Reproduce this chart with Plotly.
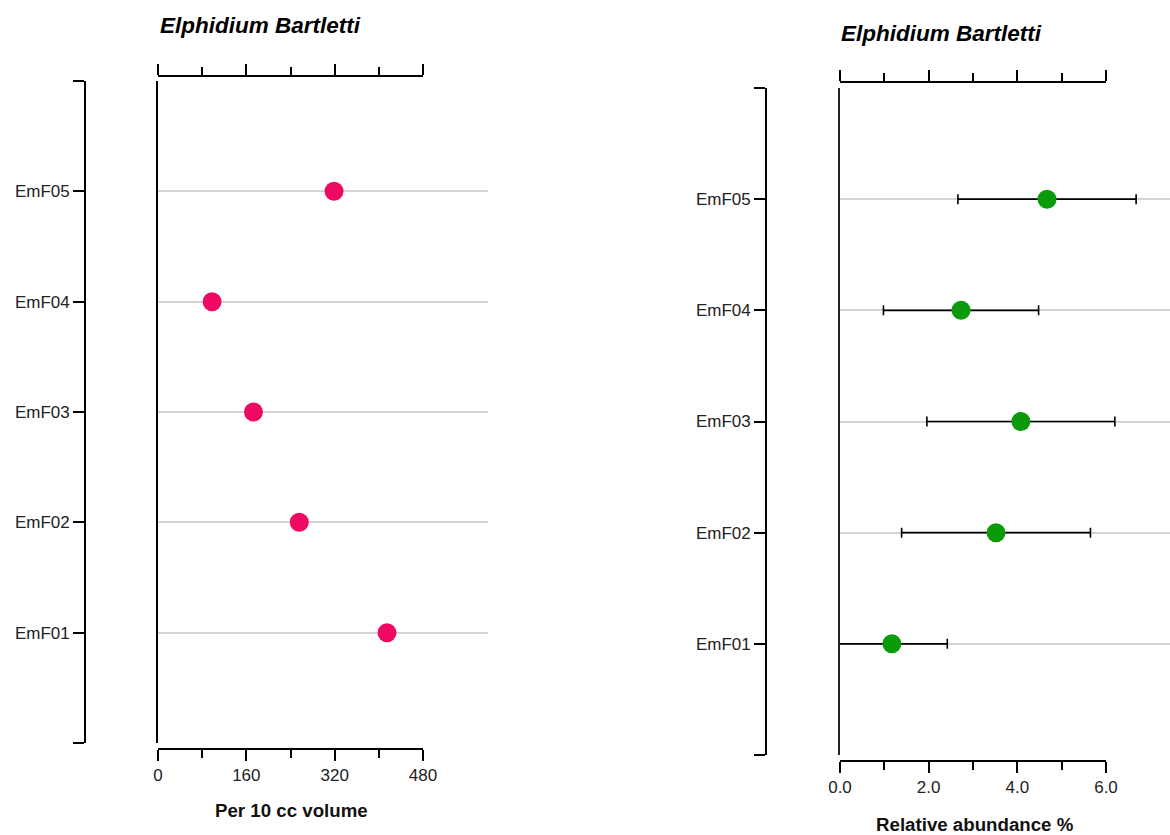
import plotly.graph_objects as go

# ---------------- data ----------------
samples = ["EmF01", "EmF02", "EmF03", "EmF04", "EmF05"]
sample_pos = [1, 2, 3, 4, 5]
per10cc = [415, 256, 173, 98, 319]
rel_abund = [1.17, 3.52, 4.08, 2.73, 4.67]
rel_err = [1.25, 2.13, 2.12, 1.75, 2.01]

left_ticks = [0, 160, 320, 480]
left_ticktext = ["0", "160", "320", "480"]
right_ticks = [0, 2, 4, 6]
right_ticktext = ["0.0", "2.0", "4.0", "6.0"]
title_text = "Elphidium Bartletti"
left_xtitle = "Per 10 cc volume"
right_xtitle = "Relative abundance %"

W, H = 1170, 835
FONT = "Liberation Sans, Arial, sans-serif"
PINK = "#EE0A62"
GREEN = "#0A9A0A"
GRID = "#D4D4D4"


def px_x(p):
    return p / W


def px_y(p):
    return 1 - p / H


bracket_vals = [0] + sample_pos + [6]
bracket_text = [""] + samples + [""]

fig = go.Figure()

# dummy traces so that every decorative axis has a subplot (without y grids)
for xa, ya in [("x3", "y3"), ("x4", "y3"), ("x5", "y4"), ("x6", "y4")]:
    fig.add_trace(go.Scatter(x=[None], y=[None], xaxis=xa, yaxis=ya,
                             mode="markers", showlegend=False, hoverinfo="skip"))

# main traces
fig.add_trace(go.Scatter(
    x=per10cc, y=sample_pos, mode="markers", xaxis="x", yaxis="y",
    marker=dict(color=PINK, size=19), showlegend=False, hoverinfo="x+y"))

fig.add_trace(go.Scatter(
    x=rel_abund, y=sample_pos, mode="markers", xaxis="x2", yaxis="y2",
    marker=dict(color=GREEN, size=19),
    error_x=dict(type="data", array=rel_err, color="black", thickness=1.6, width=5),
    showlegend=False, hoverinfo="x+y"))

tickfont = dict(family=FONT, size=17, color="#222222")

L_dom_y = [px_y(743), px_y(81)]
R_dom_y = [px_y(755), px_y(88)]

common_line = dict(showline=True, linecolor="black", linewidth=1.8,
                   showgrid=False, zeroline=False, automargin=False)
tick_style = dict(ticks="outside", ticklen=11, tickwidth=1.8, tickcolor="black")

fig.update_layout(
    width=W, height=H, autosize=False,
    margin=dict(l=0, r=0, t=0, b=0, pad=0),
    paper_bgcolor="white", plot_bgcolor="rgba(0,0,0,0)",
    font=dict(family=FONT),
    # ---- left panel ----
    xaxis=dict(domain=[px_x(158), px_x(488)], range=[0, 598], anchor="y",
               showgrid=False, showline=False, zeroline=False, automargin=False,
               showticklabels=False, ticks=""),
    yaxis=dict(domain=L_dom_y, range=[0, 6], anchor="x",
               tickvals=bracket_vals, showgrid=True, gridcolor=GRID, gridwidth=1.5,
               showline=True, linecolor="black", linewidth=1.8, automargin=False,
               zeroline=False, showticklabels=False, ticks=""),
    xaxis3=dict(domain=[px_x(158), px_x(423)], range=[0, 480],
                anchor="free", position=px_y(749), side="bottom",
                tickvals=left_ticks, ticktext=left_ticktext,
                minor=dict(dtick=80, tick0=0, ticks="outside", ticklen=8,
                           tickwidth=1.8, tickcolor="black", showgrid=False),
                tickfont=tickfont, **tick_style, **common_line),
    xaxis4=dict(domain=[px_x(158), px_x(423)], range=[0, 480],
                anchor="free", position=px_y(76), side="top",
                tickvals=left_ticks, showticklabels=False,
                minor=dict(dtick=80, tick0=0, ticks="outside", ticklen=8,
                           tickwidth=1.8, tickcolor="black", showgrid=False),
                **tick_style, **common_line),
    yaxis3=dict(domain=L_dom_y, range=[0, 6], anchor="free", position=px_x(85),
                side="left", tickvals=bracket_vals, ticktext=bracket_text,
                tickfont=tickfont, **tick_style, **common_line),
    # ---- right panel ----
    xaxis2=dict(domain=[px_x(840), 1.0], range=[0, 330 / 44.33], anchor="y2",
                showgrid=False, showline=False, zeroline=False, automargin=False,
                showticklabels=False, ticks=""),
    yaxis2=dict(domain=R_dom_y, range=[0, 6], anchor="x2",
                tickvals=bracket_vals, showgrid=True, gridcolor=GRID, gridwidth=1.5,
                showline=True, linecolor="#222222", linewidth=1.8, automargin=False,
                zeroline=False, showticklabels=False, ticks=""),
    xaxis5=dict(domain=[px_x(840), px_x(1106)], range=[0, 6],
                anchor="free", position=px_y(761), side="bottom",
                tickvals=right_ticks, ticktext=right_ticktext,
                minor=dict(dtick=1, tick0=0, ticks="outside", ticklen=8,
                           tickwidth=1.8, tickcolor="black", showgrid=False),
                tickfont=tickfont, **tick_style, **common_line),
    xaxis6=dict(domain=[px_x(840), px_x(1106)], range=[0, 6],
                anchor="free", position=px_y(82), side="top",
                tickvals=right_ticks, showticklabels=False,
                minor=dict(dtick=1, tick0=0, ticks="outside", ticklen=8,
                           tickwidth=1.8, tickcolor="black", showgrid=False),
                **tick_style, **common_line),
    yaxis4=dict(domain=R_dom_y, range=[0, 6], anchor="free", position=px_x(766),
                side="left", tickvals=bracket_vals, ticktext=bracket_text,
                tickfont=tickfont, **tick_style, **common_line),
)

ann_title_font = dict(family=FONT, size=22.5, color="black")
ann_axis_font = dict(family=FONT, size=18.7, color="#111111")
fig.add_annotation(text="<b><i>%s</i></b>" % title_text, xref="paper", yref="paper",
                   x=px_x(158), y=px_y(25), xanchor="left", yanchor="middle",
                   showarrow=False, font=ann_title_font)
fig.add_annotation(text="<b><i>%s</i></b>" % title_text, xref="paper", yref="paper",
                   x=px_x(839), y=px_y(33), xanchor="left", yanchor="middle",
                   showarrow=False, font=ann_title_font)
fig.add_annotation(text="<b>%s</b>" % left_xtitle, xref="paper", yref="paper",
                   x=px_x(291), y=px_y(810), xanchor="center", yanchor="middle",
                   showarrow=False, font=ann_axis_font)
fig.add_annotation(text="<b>%s</b>" % right_xtitle, xref="paper", yref="paper",
                   x=px_x(975), y=px_y(824), xanchor="center", yanchor="middle",
                   showarrow=False, font=ann_axis_font)

fig.write_html("out.html")
